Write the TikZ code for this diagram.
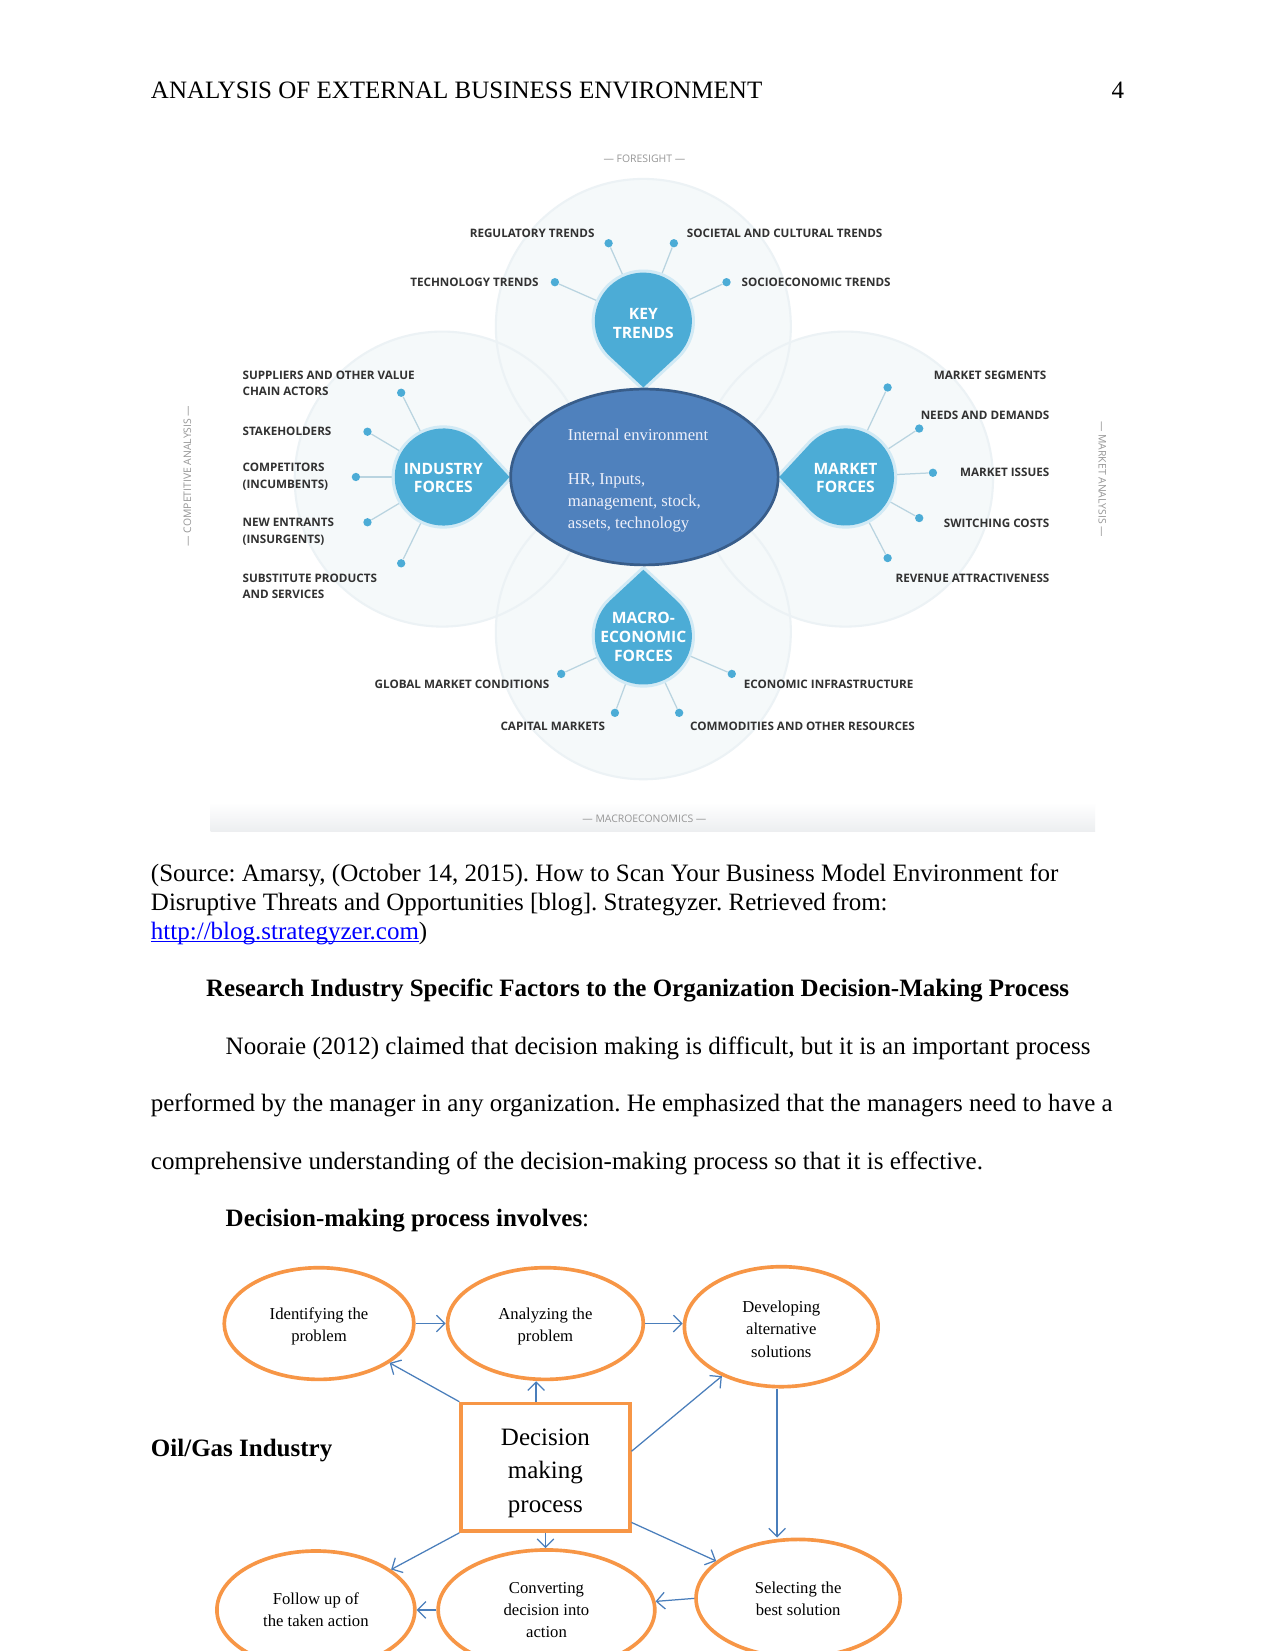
\documentclass[tikz,border=0pt]{standalone}
\usepackage{fontspec}
\setmainfont{Liberation Serif}
\newfontfamily\labf{Open Sans}
\usetikzlibrary{arrows.meta,shapes.geometric}
\definecolor{tb}{RGB}{76,172,214}
\definecolor{pale}{RGB}{245,249,250}
\definecolor{paleedge}{RGB}{236,242,245}
\definecolor{spokec}{RGB}{185,212,224}
\definecolor{labc}{RGB}{50,50,50}
\definecolor{sidec}{RGB}{150,150,150}
\definecolor{ieblue}{RGB}{79,129,189}
\definecolor{ieedge}{RGB}{56,93,138}
\definecolor{ietext}{RGB}{238,240,250}
\definecolor{orng}{RGB}{247,150,70}
\definecolor{arrc}{RGB}{74,126,187}
\definecolor{linkblue}{RGB}{0,0,255}
\definecolor{bandc}{RGB}{236,238,240}
\newcommand\tdrop[3]{%
  \draw[tb!25,line width=3pt,line join=round,shift={(#1,#2)},rotate=#3] (31.8pt,0pt) -- (43:23.3pt) arc[start angle=43,end angle=317,radius=23.3pt] -- cycle;
  \fill[tb,shift={(#1,#2)},rotate=#3] (31.8pt,0pt) -- (43:23.3pt) arc[start angle=43,end angle=317,radius=23.3pt] -- cycle;}
\newcommand\ulink[1]{\setbox0=\hbox{#1}\rlap{\rule[-1.3pt]{\wd0}{0.5pt}}\box0}
\newcommand\upstrut[1]{\rule{0pt}{#1}}
\frenchspacing
\begin{document}
\begin{tikzpicture}[x=0.5054pt,y=-0.5054pt,
  lab/.style={font=\labf\bfseries\fontsize{5.6}{8}\selectfont, text=labc, inner sep=0pt, align=left},
  labr/.style={lab, anchor=east, align=right},
  labl/.style={lab, anchor=west},
  side/.style={font=\labf\fontsize{5}{6}\selectfont, text=sidec, inner sep=0pt},
  tlab/.style={font=\labf\bfseries\fontsize{7.5}{9}\selectfont, text=white, align=center, inner sep=0pt},
  dot/.style={circle, fill=tb, minimum size=4pt, inner sep=0pt},
  spoke/.style={draw=spokec, line width=0.6pt},
  body/.style={font=\fontsize{12}{13.8}\selectfont, inner sep=0pt, anchor=base west},
  fe/.style={ellipse, draw=orng, line width=1.75pt, fill=white, align=center, font=\fontsize{8}{10.6}\selectfont, inner sep=0pt},
  arr/.style={draw=arrc, line width=0.6pt, -{Straight Barb[length=4pt,width=8pt]}}]
\useasboundingbox (0,0) rectangle (1211,1568);
\clip (0,0) rectangle (1211,1568);
\fill[white] (0,0) rectangle (1211,1568);

% ---------- header ----------
\node[body] (hd) at (143,94) {ANALYSIS OF EXTERNAL BUSINESS ENVIRONMENT};
\node[body,anchor=base east] (pn) at (1068,94) {4};

% ---------- environment map ----------
\foreach \cx/\cy in {611/310, 420/455, 803/455, 611/600}
  \fill[pale] (\cx,\cy) circle[radius=70.8pt];
\foreach \cx/\cy in {611/310, 420/455, 803/455, 611/600}
  \draw[paleedge, line width=1pt] (\cx,\cy) circle[radius=70.8pt];
\shade[top color=white, bottom color=bandc] (200,762) rectangle (1040,790);

\node[side] (fs) at (612,151) {— FORESIGHT —};
\node[side] (mc) at (612,778) {— MACROECONOMICS —};
\node[side, rotate=90] (ca) at (178,452) {— COMPETITIVE ANALYSIS —};
\node[side, rotate=-90] (ma) at (1047,455) {— MARKET ANALYSIS —};

\coordinate (ktc) at (611,305);
\coordinate (ifc) at (421,453);
\coordinate (mfc) at (803,453);
\coordinate (mec) at (611,604);

% dots
\node[dot] (k1) at (578,231) {};
\node[dot] (k2) at (640,231) {};
\node[dot] (k3) at (527,268) {};
\node[dot] (k4) at (690,268) {};
\node[dot] (i1) at (381,373) {};
\node[dot] (i2) at (349,410) {};
\node[dot] (i3) at (338,453) {};
\node[dot] (i4) at (349,496) {};
\node[dot] (i5) at (381,535) {};
\node[dot] (m1) at (843,368) {};
\node[dot] (m2) at (873,407) {};
\node[dot] (m3) at (886,449) {};
\node[dot] (m4) at (873,492) {};
\node[dot] (m5) at (843,530) {};
\node[dot] (c1) at (533,640) {};
\node[dot] (c2) at (584,677) {};
\node[dot] (c3) at (695,640) {};
\node[dot] (c4) at (645,677) {};

\foreach \d in {k1,k2,k3,k4} \draw[spoke] (ktc) -- (\d);
\foreach \d in {i1,i2,i3,i4,i5} \draw[spoke] (ifc) -- (\d);
\foreach \d in {m1,m2,m3,m4,m5} \draw[spoke] (mfc) -- (\d);
\foreach \d in {c1,c2,c3,c4} \draw[spoke] (mec) -- (\d);

\tdrop{611}{305}{-90}
\tdrop{421}{453}{0}
\tdrop{803}{453}{180}
\tdrop{611}{604}{90}

\node[tlab] (kt) at (611,307) {KEY\\TRENDS};
\node[tlab] (if) at (421,454) {INDUSTRY\\FORCES};
\node[tlab] (mf) at (803,454) {MARKET\\FORCES};
\node[tlab] (me) at (611,605) {MACRO-\\ECONOMIC\\FORCES};

% labels
\node[labr] (lk1) at (565,222) {REGULATORY TRENDS};
\node[labl] (lk2) at (652,222) {SOCIETAL AND CULTURAL TRENDS};
\node[labr] (lk3) at (512,268) {TECHNOLOGY TRENDS};
\node[labl] (lk4) at (704,268) {SOCIOECONOMIC TRENDS};

\node[labl] (li1) at (230,364) {SUPPLIERS AND OTHER VALUE\\CHAIN ACTORS};
\node[labl] (li2) at (230,410) {STAKEHOLDERS};
\node[labl] (li3) at (230,453) {COMPETITORS\\(INCUMBENTS)};
\node[labl] (li4) at (230,505) {NEW ENTRANTS\\(INSURGENTS)};
\node[labl] (li5) at (230,557) {SUBSTITUTE PRODUCTS\\AND SERVICES};

\node[labr] (lm1) at (994,356) {MARKET SEGMENTS};
\node[labr] (lm2) at (997,394) {NEEDS AND DEMANDS};
\node[labr] (lm3) at (997,449) {MARKET ISSUES};
\node[labr] (lm4) at (997,497) {SWITCHING COSTS};
\node[labr] (lm5) at (997,549) {REVENUE ATTRACTIVENESS};

\node[labr] (lc1) at (522,650) {GLOBAL MARKET CONDITIONS};
\node[labr] (lc2) at (575,690) {CAPITAL MARKETS};
\node[labl] (lc3) at (706,650) {ECONOMIC INFRASTRUCTURE};
\node[labl] (lc4) at (655,690) {COMMODITIES AND OTHER RESOURCES};

% internal environment
\node[ellipse, fill=ieblue, draw=ieedge, line width=1.3pt, minimum width=128.4pt, minimum height=84.4pt, inner sep=0pt] (ie) at (612,453) {};
\node[anchor=north west, inner sep=0pt, align=left, text=ietext, font=\fontsize{8}{10.6}\selectfont] (iet) at (539,407)
  {Internal environment\\[10.6pt]HR, Inputs,\\management, stock,\\assets, technology};

% ---------- body text ----------
\node[body] (s1) at (143,837) {(Source: Amarsy, (October 14, 2015). How to Scan Your Business Model Environment for};
\node[body] (s2) at (143,865) {Disruptive Threats and Opportunities [blog]. Strategyzer. Retrieved from:};
\node[body] (s3) at (143,892) {\textcolor{linkblue}{\ulink{http://blog.strategyzer.com}})};
\node[body, anchor=base, font=\fontsize{12}{13.8}\selectfont\bfseries] (rh) at (605.5,946) {Research Industry Specific Factors to the Organization Decision-Making Process};
\node[body] (p1) at (214,1001) {Nooraie (2012) claimed that decision making is difficult, but it is an important process};
\node[body] (p2) at (143,1056) {performed by the manager in any organization. He emphasized that the managers need to have a};
\node[body] (p3) at (143,1111) {comprehensive understanding of the decision-making process so that it is effective.};
\node[body] (dp) at (214,1165) {\textbf{Decision-making process involves}:};
\node[body] (og) at (143,1383) {\textbf{Oil/Gas Industry}};

% ---------- flowchart ----------
\node[fe, minimum width=91pt, minimum height=53.6pt] (e1) at (303,1257) {\upstrut{8.5pt}Identifying the\\problem};
\node[fe, minimum width=94pt, minimum height=53.6pt] (e2) at (518,1257) {\upstrut{8.5pt}Analyzing the\\problem};
\node[fe, minimum width=93pt, minimum height=57.6pt] (e3) at (742,1260) {\upstrut{8pt}Developing\\alternative\\solutions};
\node[fe, minimum width=98pt, minimum height=56.6pt] (e4) at (758,1518) {Selecting the\\best solution};
\node[fe, minimum width=104pt, minimum height=57.6pt] (e5) at (519,1529) {Converting\\decision into\\action};
\node[fe, minimum width=95pt, minimum height=56.6pt] (e6) at (300,1529) {Follow up of\\the taken action};
\node[draw=orng, line width=1.75pt, minimum width=80.9pt, minimum height=61.2pt, align=center, inner sep=0pt,
      font=\fontsize{12}{16}\selectfont] (dm) at (518,1393.5) {\upstrut{13.8pt}Decision\\making\\process};

\draw[arr] (e1.east) -- (e2.west);
\draw[arr] (e2.east) -- (e2.east -| e3.west);
\draw[arr] (dm.north west) -- (e1);
\draw[arr] ([xshift=-4.5pt]dm.north) -- ([xshift=-4.5pt]dm.north |- e2.south);
\draw[arr] ([yshift=-23.8pt]dm.north east) -- (e3);
\draw[arr] ([xshift=-2pt]e3.south) -- ([xshift=-2pt]e3.south |- e4.north);
\draw[arr] ([yshift=5pt]dm.south east) -- (e4);
\draw[arr] (dm.south) -- (dm.south |- e5.north);
\draw[arr] (dm.south west) -- (e6);
\draw[arr] (e4.west) -- (e5);
\draw[arr] (e5.west) -- (e6.east);
\end{tikzpicture}
\end{document}
